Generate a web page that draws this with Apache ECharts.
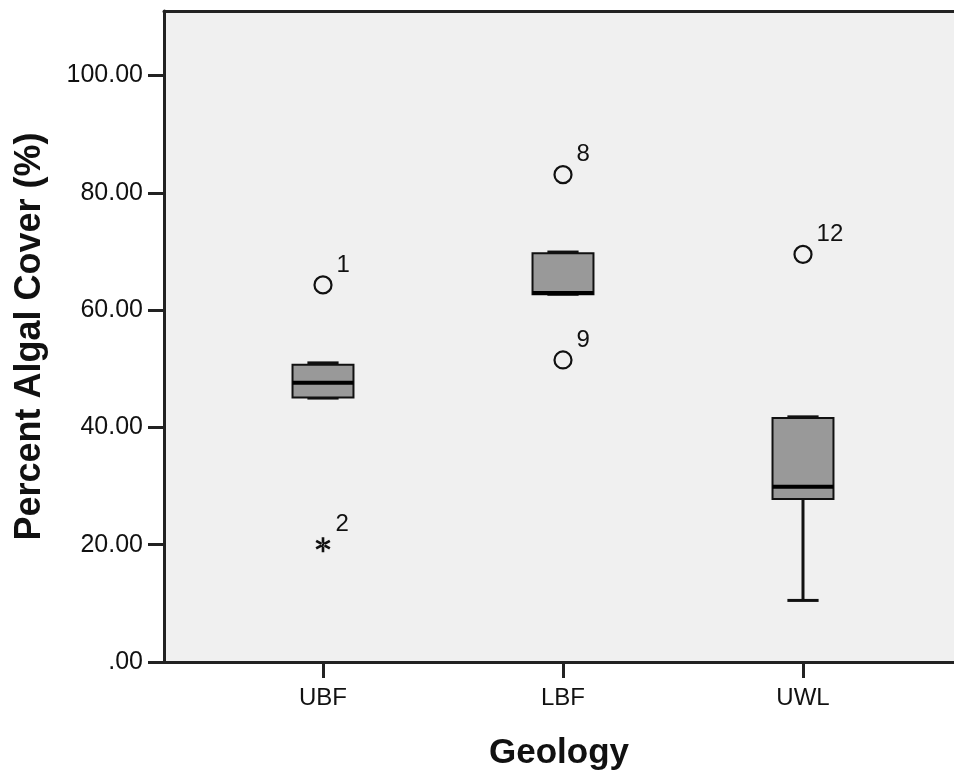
<!DOCTYPE html>
<html>
<head>
<meta charset="utf-8">
<title>Percent Algal Cover by Geology</title>
<script src="https://cdn.jsdelivr.net/npm/echarts@6/dist/echarts.min.js"></script>
<style>
  html, body { margin: 0; padding: 0; background: #ffffff; }
  #chart { width: 954px; height: 773px; }
</style>
</head>
<body>
<div id="chart"></div>
<script>
// Geology groups along the x axis
const categories = ['UBF', 'LBF', 'UWL'];

// Box summaries per group: [lower whisker, Q1, median, Q3, upper whisker]
const boxStats = [
  [45.0, 45.1, 47.6, 50.7, 51.0],
  [62.7, 62.7, 62.9, 69.7, 69.9],
  [10.5, 27.8, 29.9, 41.6, 41.8]
];

// Outliers (circles): group index, value, case number
const outlierGroup = [0, 1, 1, 2];
const outlierValue = [64.3, 83.1, 51.5, 69.5];
const outlierCase = ['1', '8', '9', '12'];

// Extreme values (stars): group index, value, case number
const extremeGroup = [0];
const extremeValue = [20.0];
const extremeCase = ['2'];

// Y axis tick positions
const yTicks = [0, 20, 40, 60, 80, 100];

const FONT = '"Liberation Sans", Arial, sans-serif';
const INK = '#111111';
const AXIS = '#222222';
const BOX_W = 0.254;   // box width, in category units
const CAP_W = 0.13;    // whisker cap width, in category units

const boxData = boxStats.map((s, i) => [i].concat(s));
const outlierData = outlierValue.map((v, i) => [outlierGroup[i], v, outlierCase[i]]);
const extremeData = extremeValue.map((v, i) => [extremeGroup[i], v, extremeCase[i]]);

// six-armed asterisk used for extreme values
const STAR_PATH = 'path://M-1,-6L1,-6L1,6L-1,6Z' +
  'M4.696,-3.866L5.696,-2.134L-4.696,3.866L-5.696,2.134Z' +
  'M-4.696,-3.866L-5.696,-2.134L4.696,3.866L5.696,2.134Z';

function renderBox(params, api) {
  const x = api.value(0);
  const lo = api.coord([x, api.value(1)]);
  const q1 = api.coord([x, api.value(2)]);
  const med = api.coord([x, api.value(3)]);
  const q3 = api.coord([x, api.value(4)]);
  const hi = api.coord([x, api.value(5)]);
  const bw = api.size([BOX_W, 0])[0];
  const cw = api.size([CAP_W, 0])[0];
  const cx = q1[0];
  const lineStyle = { stroke: INK, lineWidth: 3 };
  return {
    type: 'group',
    children: [
      { type: 'line', shape: { x1: cx, y1: q1[1], x2: cx, y2: lo[1] }, style: lineStyle },
      { type: 'line', shape: { x1: cx, y1: q3[1], x2: cx, y2: hi[1] }, style: lineStyle },
      { type: 'line', shape: { x1: cx - cw / 2, y1: lo[1], x2: cx + cw / 2, y2: lo[1] }, style: lineStyle },
      { type: 'line', shape: { x1: cx - cw / 2, y1: hi[1], x2: cx + cw / 2, y2: hi[1] }, style: lineStyle },
      {
        type: 'rect',
        shape: { x: cx - bw / 2, y: q3[1], width: bw, height: q1[1] - q3[1] },
        style: { fill: '#999999', stroke: INK, lineWidth: 2 }
      },
      { type: 'line', shape: { x1: cx - bw / 2, y1: med[1], x2: cx + bw / 2, y2: med[1] },
        style: { stroke: '#000000', lineWidth: 4 } }
    ]
  };
}

const caseLabel = {
  show: true,
  position: 'right',
  distance: 4,
  offset: [0, -20],
  formatter: p => p.value[2],
  fontFamily: FONT,
  fontSize: 24,
  color: INK,
  textBorderWidth: 0
};

const titleStyle = { fontFamily: FONT, fontSize: 35, fontWeight: 'bold', color: INK };
const tickLabelStyle = { fontFamily: FONT, fontSize: 24, color: INK };

const chart = echarts.init(document.getElementById('chart'), null, { renderer: 'canvas' });
chart.setOption({
  backgroundColor: '#ffffff',
  animation: false,
  grid: {
    left: 164, top: 11, right: 0, bottom: 111,
    outerBoundsMode: 'none',
    containLabel: false,
    show: true,
    backgroundColor: '#f0f0f0',
    borderWidth: 0
  },
  xAxis: [
    {
      type: 'value',
      min: -0.6625,
      max: 2.6292,
      name: 'Geology',
      nameLocation: 'middle',
      nameGap: 74,
      nameTextStyle: titleStyle,
      axisLine: { show: true, onZero: false, lineStyle: { color: AXIS, width: 3 } },
      axisTick: { show: true, length: 16, customValues: [0, 1, 2], lineStyle: { color: AXIS, width: 3 } },
      axisLabel: Object.assign({
        customValues: [0, 1, 2],
        formatter: v => categories[Math.round(v)] || '',
        margin: 24
      }, tickLabelStyle),
      splitLine: { show: false }
    },
    {
      // frame line along the top of the plot
      type: 'value',
      position: 'top',
      min: -0.6625,
      max: 2.6292,
      axisLine: { show: true, onZero: false, lineStyle: { color: AXIS, width: 3 } },
      axisTick: { show: false },
      axisLabel: { show: false },
      splitLine: { show: false }
    }
  ],
  yAxis: {
    type: 'value',
    min: 0,
    max: 111,
    name: 'Percent Algal Cover (%)',
    nameLocation: 'middle',
    nameGap: 116,
    nameTextStyle: Object.assign({}, titleStyle, { fontSize: 36 }),
    axisLine: { show: true, onZero: false, lineStyle: { color: AXIS, width: 3 } },
    axisTick: { show: true, length: 16, customValues: yTicks, lineStyle: { color: AXIS, width: 3 } },
    axisLabel: Object.assign({
      customValues: yTicks,
      formatter: v => (v === 0 ? '.00' : v.toFixed(2)),
      margin: 21
    }, tickLabelStyle, { fontSize: 25 }),
    splitLine: { show: false }
  },
  series: [
    {
      type: 'custom',
      renderItem: renderBox,
      encode: { x: 0, y: [1, 2, 3, 4, 5] },
      data: boxData,
      z: 2
    },
    {
      type: 'scatter',
      symbol: 'circle',
      symbolSize: 17,
      itemStyle: { color: 'rgba(0,0,0,0)', borderColor: INK, borderWidth: 2.2, opacity: 1 },
      label: caseLabel,
      data: outlierData,
      z: 3
    },
    {
      type: 'scatter',
      symbol: STAR_PATH,
      symbolSize: 15,
      itemStyle: { color: INK, opacity: 1 },
      label: Object.assign({}, caseLabel, { distance: 5 }),
      data: extremeData,
      z: 3
    }
  ]
});
</script>
</body>
</html>
